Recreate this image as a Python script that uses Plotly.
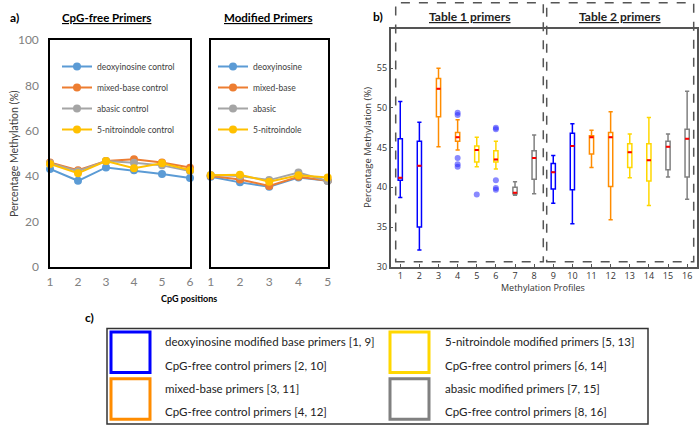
import plotly.graph_objects as go

# panel a: CpG-free primers (positions 1-6)
cpg_free_pos = [1, 2, 3, 4, 5, 6]
cf_deoxyinosine = [43.1, 37.9, 43.8, 42.5, 40.9, 39.1]
cf_mixed = [46.0, 42.6, 46.6, 47.4, 46.0, 43.7]
cf_abasic = [45.6, 42.1, 46.6, 45.9, 44.7, 42.2]
cf_nitro = [45.3, 41.2, 46.6, 43.4, 45.6, 42.6]

# panel a: modified primers (positions 1-5)
mod_pos = [1, 2, 3, 4, 5]
mod_deoxyinosine = [39.7, 37.2, 35.3, 39.3, 37.9]
mod_mixed = [40.0, 38.5, 35.6, 39.7, 37.9]
mod_abasic = [40.4, 40.0, 38.2, 41.5, 37.8]
mod_nitro = [40.3, 40.6, 37.5, 40.3, 39.4]

# panel b: box plots per methylation profile
profiles = list(range(1, 17))
upper = [50.8, 48.2, 55.0, 48.5, 46.3, 45.8, 40.7, 46.6, 44.0, 48.0, 47.2, 49.5, 46.7, 48.8, 46.7, 52.1]
q3 = [46.1, 45.8, 53.7, 46.9, 45.2, 44.6, 40.0, 44.6, 43.0, 46.8, 46.5, 46.9, 45.5, 45.5, 45.8, 47.3]
median = [41.2, 42.7, 52.4, 46.3, 44.7, 43.5, 39.3, 43.7, 41.9, 45.2, 46.3, 46.3, 44.4, 43.4, 45.1, 46.1]
q1 = [40.9, 35.0, 48.9, 45.8, 43.2, 43.2, 39.2, 41.0, 39.8, 39.7, 44.2, 40.1, 42.5, 40.8, 42.2, 41.3]
lower = [38.7, 32.1, 45.1, 44.7, 42.6, 42.3, 39.0, 39.2, 38.0, 35.4, 42.5, 35.9, 41.2, 37.7, 41.3, 38.5]
outlier_profile = [4, 4, 4, 4, 4, 5, 6, 6, 6, 6, 6]
outlier_value = [49.4, 49.1, 43.7, 42.9, 42.6, 39.1, 47.5, 47.3, 40.9, 39.9, 39.7]

primer_types = ["deoxyinosine", "mixed-base", "abasic", "5-nitroindole"]
line_colors = ["#5B9BD5", "#ED7D31", "#A5A5A5", "#FFC000"]
group_colors = ["#0000ff", "#ff8c00", "#ffd700", "#808080"]
box_color_order = [0, 0, 1, 1, 2, 2, 3, 3, 0, 0, 1, 1, 2, 2, 3, 3]

legend_c_left = [("deoxyinosine modified base primers [1, 9]", "CpG-free control primers [2, 10]"),
                 ("mixed-base primers [3, 11]", "CpG-free control primers [4, 12]")]
legend_c_right = [("5-nitroindole modified primers [5, 13]", "CpG-free control primers [6, 14]"),
                  ("abasic modified primers [7, 15]", "CpG-free control primers [8, 16]")]

W, H = 700, 428
def px(x):
    return x / W
def py(y):
    return 1 - y / H

fig = go.Figure()

cf_series = [cf_deoxyinosine, cf_mixed, cf_abasic, cf_nitro]
mod_series = [mod_deoxyinosine, mod_mixed, mod_abasic, mod_nitro]
for i, name in enumerate(primer_types):
    fig.add_trace(go.Scatter(x=cpg_free_pos, y=cf_series[i], mode="lines+markers",
                             name=name + " control", line=dict(color=line_colors[i], width=2),
                             marker=dict(size=8), cliponaxis=False, xaxis="x", yaxis="y",
                             legend="legend", legendgroup="a" + str(i)))
for i, name in enumerate(primer_types):
    fig.add_trace(go.Scatter(x=mod_pos, y=mod_series[i], mode="lines+markers",
                             name=name, line=dict(color=line_colors[i], width=2),
                             marker=dict(size=8), cliponaxis=False, xaxis="x2", yaxis="y2",
                             legend="legend2", legendgroup="b" + str(i)))

half = 0.11
for i, p in enumerate(profiles):
    c = group_colors[box_color_order[i]]
    fig.add_trace(go.Box(x=[p], q1=[q1[i]], median=[median[i]], q3=[q3[i]],
                         lowerfence=[lower[i]], upperfence=[upper[i]],
                         width=2 * half, whiskerwidth=1, boxpoints=False,
                         line=dict(color=c, width=1.5), fillcolor="rgba(0,0,0,0)",
                         showlegend=False, xaxis="x3", yaxis="y3", hoverinfo="skip"))
    fig.add_trace(go.Scatter(x=[p - half, p + half], y=[median[i], median[i]], mode="lines",
                             line=dict(color="#ff0000", width=2), showlegend=False,
                             xaxis="x3", yaxis="y3", hoverinfo="skip"))

fig.add_trace(go.Scatter(x=outlier_profile, y=outlier_value, mode="markers",
                         marker=dict(color="rgba(40,40,255,0.55)", size=6),
                         showlegend=False, xaxis="x3", yaxis="y3"))

frame_a = dict(showline=True, linecolor="black", linewidth=1.5, mirror=True, automargin=False,
               showgrid=False, zeroline=False, ticks="outside",
               tickcolor="rgba(0,0,0,0)", tickfont=dict(family="Lato", size=12, color="#808080"))
frame_b = dict(showline=True, linecolor="#555555", linewidth=1.5, mirror=True, automargin=False,
               showgrid=False, zeroline=False, ticks="inside", ticklen=3, tickcolor="#555555",
               tickfont=dict(family="Open Sans", size=9, color="#333333"))
legend_style = dict(xanchor="left", yanchor="top", bgcolor="rgba(0,0,0,0)",
                    font=dict(family="Lato", size=8.5, color="#404040"), itemwidth=30,
                    tracegroupgap=2, traceorder="grouped")
fig.update_layout(
    width=W, height=H, margin=dict(l=0, r=0, t=0, b=0, pad=0, autoexpand=False),
    paper_bgcolor="white", plot_bgcolor="white",
    xaxis=dict(domain=[px(50), px(190)], range=[1, 6], tickvals=cpg_free_pos, ticklen=3, **frame_a),
    yaxis=dict(domain=[py(266.7), py(40)], range=[0, 100], tickvals=[0, 20, 40, 60, 80, 100], ticklen=7, **frame_a),
    xaxis2=dict(domain=[px(210.7), px(327.7)], range=[1, 5], tickvals=mod_pos, anchor="y2", ticklen=3, **frame_a),
    yaxis2=dict(domain=[py(266.7), py(40)], range=[0, 100], anchor="x2", showticklabels=False, ticklen=7, **frame_a),
    xaxis3=dict(domain=[px(390.7), px(696.7)], range=[0.5, 16.5], tickvals=profiles, anchor="y3", **frame_b),
    yaxis3=dict(domain=[py(266.7), py(28.5)], range=[30, 60], tickvals=[30, 35, 40, 45, 50, 55],
                anchor="x3", **frame_b),
    legend=dict(x=px(57), y=py(52), **legend_style),
    legend2=dict(x=px(213), y=py(52), **legend_style),
)

ann = []
def text(x, y, s, size, bold=False, under=False, color="#222222", family="Lato", xanchor="center", angle=0):
    ann.append(dict(x=px(x), y=py(y), xref="paper", yref="paper", text="<b>" + s + "</b>" if bold else s,
                    showarrow=False, xanchor=xanchor, yanchor="middle", textangle=angle,
                    font=dict(family=family, size=size, color=color,
                              lineposition="under" if under else "none")))

text(14, 17, "a)", 12, bold=True, color="#000000")
text(106, 17, "CpG-free Primers", 11.5, bold=True, under=True, color="#000000")
text(268, 17, "Modified Primers", 11.5, bold=True, under=True, color="#000000")
text(14, 154, "Percentage Methylation (%)", 10.5, color="#404040", angle=-90)
text(189, 298, "CpG positions", 9, bold=True, color="#000000")
text(378, 16, "b)", 12, bold=True, color="#000000")
text(470, 16, "Table 1 primers", 12, bold=True, under=True, color="#222222")
text(620, 16, "Table 2 primers", 12, bold=True, under=True, color="#222222")
text(368, 148, "Percentage Methylation (%)", 9.5, color="#333333", family="Open Sans", angle=-90)
text(543, 287, "Methylation Profiles", 9, color="#333333", family="Open Sans")
text(90, 317, "c)", 12, bold=True, color="#000000")

shapes = []
# dashed group frames in panel b
for x0, x1 in [(395.7, 543.3), (546.7, 693.7)]:
    shapes.append(dict(type="rect", xref="paper", yref="paper", x0=px(x0), x1=px(x1), y0=py(261.7), y1=py(2.7),
                       line=dict(color="#555555", width=1.5, dash="dash")))

# panel c legend box
shapes.append(dict(type="rect", xref="paper", yref="paper", x0=px(107), x1=px(648), y0=py(424), y1=py(328.5),
                   line=dict(color="#333333", width=1.5)))
for col, (sx, tx, entries, cols) in enumerate([(110, 162.7, legend_c_left, [0, 1]),
                                                  (389, 442.7, legend_c_right, [2, 3])]):
    for r, (line1, line2) in enumerate(entries):
        top = 331 + r * 46.7
        shapes.append(dict(type="rect", xref="paper", yref="paper", x0=px(sx + 1), x1=px(sx + 40),
                           y0=py(top + 41.5), y1=py(top + 1), line=dict(color=group_colors[cols[r]], width=3)))
        text(tx, top + 10.7, line1, 11.5, color="#222222", xanchor="left")
        text(tx, top + 34, line2, 11.5, color="#222222", xanchor="left")

fig.update_layout(annotations=ann, shapes=shapes)
# the page body keeps its default 8px margin otherwise
fig.write_html("out.html", config={"displayModeBar": False},
               post_script="document.body.style.margin='0';")
